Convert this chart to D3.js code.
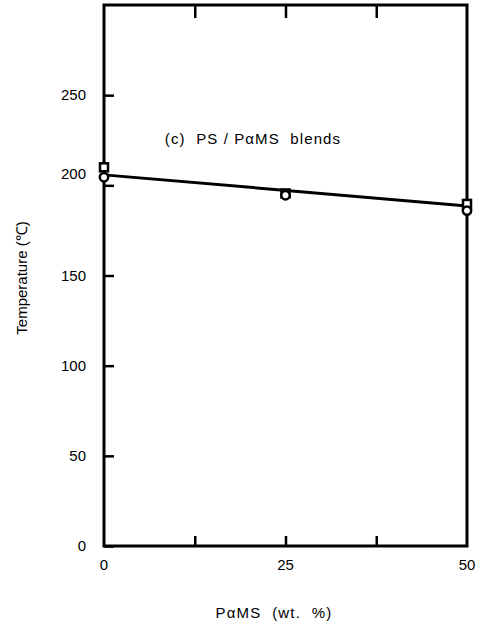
<!DOCTYPE html>
<html>
<head>
<meta charset="utf-8">
<script src="https://cdn.jsdelivr.net/npm/d3@7"></script>
<style>
  html, body { margin: 0; padding: 0; background: #fff; }
  svg text { font-family: "Liberation Sans", Arial, sans-serif; fill: #000; }
</style>
</head>
<body>
<svg id="chart" width="481" height="636"></svg>
<script>
// PαMS content (wt. %) and measured temperatures (°C)
const pamsContent = [0, 25, 50];
const tempSquare = [210, 195.5, 189.7];
const tempCircle = [204.5, 194.5, 186];
// fitted line end points
const fitX = [0, 50];
const fitY = [205.8, 188.6];

const yTicks = [0, 50, 100, 150, 200, 250];
const xTickLabels = [0, 25, 50];
const xMinorTicks = [12.5, 25, 37.5];

const svg = d3.select("#chart");
const plotLeft = 104, plotRight = 467, plotTop = 5, plotBottom = 546;

const x = d3.scaleLinear().domain([0, 50]).range([plotLeft, plotRight]);
const y = d3.scaleLinear().domain([0, 300]).range([plotBottom, plotTop]);

// frame
svg.append("rect")
  .attr("x", plotLeft).attr("y", plotTop)
  .attr("width", plotRight - plotLeft).attr("height", plotBottom - plotTop)
  .attr("fill", "none").attr("stroke", "#000").attr("stroke-width", 3);

// left axis: inward ticks, labels outside
const yAxis = d3.axisLeft(y).tickValues(yTicks).tickSizeInner(-10).tickSizeOuter(0).tickPadding(18);
const gy = svg.append("g").attr("transform", `translate(${plotLeft},0)`).call(yAxis);
gy.select(".domain").remove();
gy.selectAll(".tick line").attr("stroke", "#000").attr("stroke-width", 2.5);
gy.selectAll(".tick text").attr("font-size", 15).attr("font-family", "Liberation Sans, Arial, sans-serif");
// the 200 label sits a little above its tick, clear of the markers
gy.selectAll(".tick").filter(d => d === 200).select("text").attr("y", -12);

// bottom axis: inward ticks at quarter points
const xAxisTicks = d3.axisBottom(x).tickValues(xMinorTicks).tickSizeInner(-10).tickSizeOuter(0).tickFormat("");
const gx = svg.append("g").attr("transform", `translate(0,${plotBottom})`).call(xAxisTicks);
gx.select(".domain").remove();
gx.selectAll(".tick line").attr("stroke", "#000").attr("stroke-width", 2.5);

// bottom axis labels
svg.append("g").selectAll("text").data(xTickLabels).join("text")
  .attr("x", d => x(d)).attr("y", plotBottom + 24)
  .attr("text-anchor", "middle").attr("font-size", 15)
  .text(d => d);

// top axis: inward ticks
const xTop = d3.axisTop(x).tickValues(xMinorTicks).tickSizeInner(-13).tickSizeOuter(0).tickFormat("");
const gt = svg.append("g").attr("transform", `translate(0,${plotTop})`).call(xTop);
gt.select(".domain").remove();
gt.selectAll(".tick line").attr("stroke", "#000").attr("stroke-width", 2.5);

// fitted line
svg.append("path")
  .datum(fitX.map((d, i) => [d, fitY[i]]))
  .attr("d", d3.line().x(d => x(d[0])).y(d => y(d[1])))
  .attr("fill", "none").attr("stroke", "#000").attr("stroke-width", 3);

// open squares
svg.append("g").selectAll("rect").data(pamsContent).join("rect")
  .attr("x", (d) => x(d) - 4).attr("y", (d, i) => y(tempSquare[i]) - 4)
  .attr("width", 8).attr("height", 8)
  .attr("fill", "#fff").attr("stroke", "#000").attr("stroke-width", 2.5);

// open circles
svg.append("g").selectAll("circle").data(pamsContent).join("circle")
  .attr("cx", d => x(d)).attr("cy", (d, i) => y(tempCircle[i]))
  .attr("r", 4.2)
  .attr("fill", "#fff").attr("stroke", "#000").attr("stroke-width", 2.5);

// panel annotation
svg.append("text")
  .attr("x", 253).attr("y", 144)
  .attr("text-anchor", "middle").attr("font-size", 15)
  .attr("letter-spacing", 1.1)
  .style("white-space", "pre")
  .text("(c)  PS / PαMS  blends");

// axis titles
svg.append("text")
  .attr("transform", "translate(27,278) rotate(-90)")
  .attr("text-anchor", "middle").attr("font-size", 15)
  .text("Temperature (℃)");

svg.append("text")
  .attr("x", 274).attr("y", 618)
  .attr("text-anchor", "middle").attr("font-size", 15)
  .attr("letter-spacing", 1.2)
  .style("white-space", "pre")
  .text("PαMS  (wt.  %)");
</script>
</body>
</html>
